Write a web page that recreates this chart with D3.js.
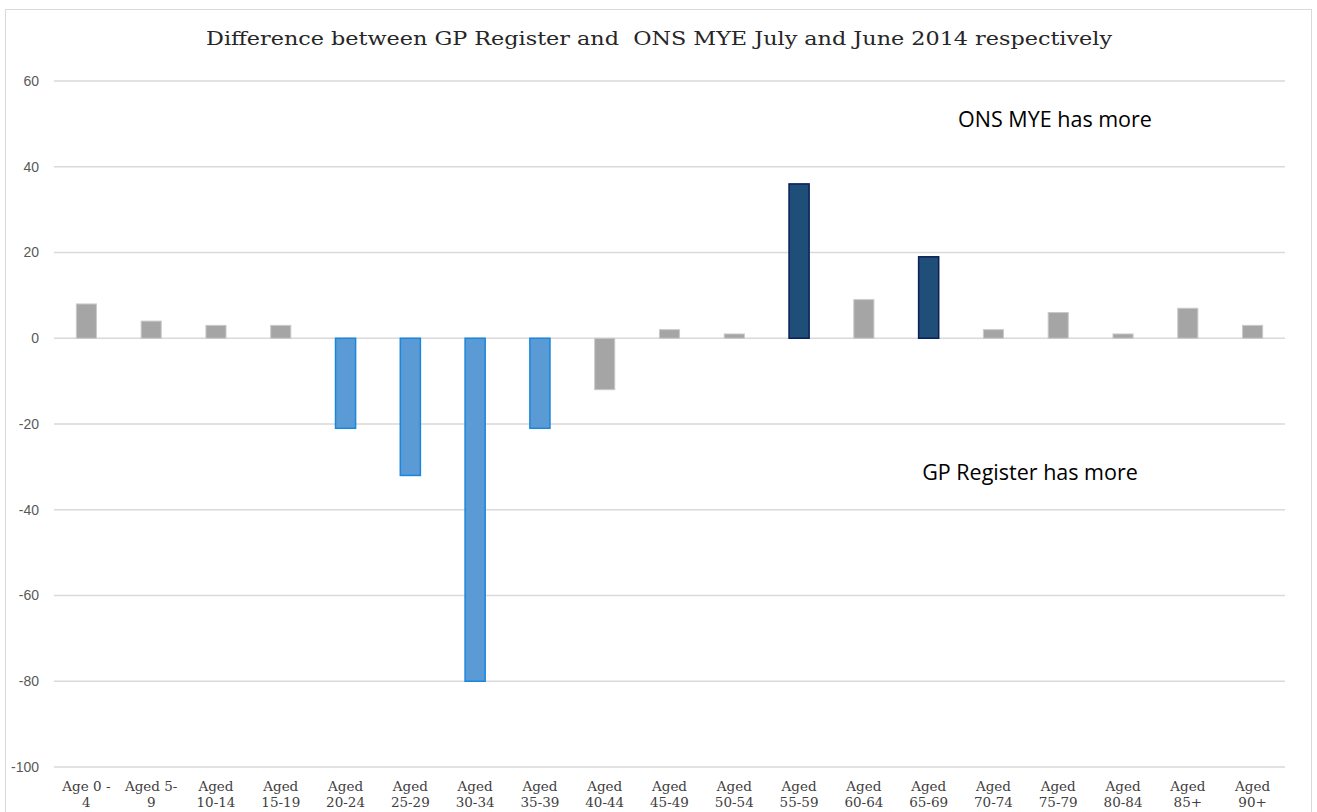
<!DOCTYPE html>
<html>
<head>
<meta charset="utf-8">
<script src="https://cdn.jsdelivr.net/npm/d3@7"></script>
<style>
  body { margin: 0; background: #fff; }
</style>
</head>
<body>
<div id="chart"></div>
<script>
// chart data
const ageGroups = ["Age 0 - 4", "Aged 5- 9", "Aged 10-14", "Aged 15-19", "Aged 20-24", "Aged 25-29",
  "Aged 30-34", "Aged 35-39", "Aged 40-44", "Aged 45-49", "Aged 50-54", "Aged 55-59", "Aged 60-64",
  "Aged 65-69", "Aged 70-74", "Aged 75-79", "Aged 80-84", "Aged 85+", "Aged 90+"];
const tickLines = [["Age 0 -", "4"], ["Aged 5-", "9"], ["Aged", "10-14"], ["Aged", "15-19"], ["Aged", "20-24"],
  ["Aged", "25-29"], ["Aged", "30-34"], ["Aged", "35-39"], ["Aged", "40-44"], ["Aged", "45-49"],
  ["Aged", "50-54"], ["Aged", "55-59"], ["Aged", "60-64"], ["Aged", "65-69"], ["Aged", "70-74"],
  ["Aged", "75-79"], ["Aged", "80-84"], ["Aged", "85+"], ["Aged", "90+"]];
const differences = [8, 4, 3, 3, -21, -32, -80, -21, -12, 2, 1, 36, 9, 19, 2, 6, 1, 7, 3];
// which group each bar is highlighted as
const highlight = ["grey", "grey", "grey", "grey", "gp", "gp", "gp", "gp", "grey", "grey", "grey", "ons",
  "grey", "ons", "grey", "grey", "grey", "grey", "grey"];
const yTicks = [-100, -80, -60, -40, -20, 0, 20, 40, 60];

const W = 1317, H = 812;
const margin = { top: 81, right: 32, bottom: 45, left: 54 };
const width = W - margin.left - margin.right,
  height = 767 - margin.top;
const slab = "'DejaVu Serif', serif";

const svg = d3.select("#chart").append("svg")
  .attr("width", W).attr("height", H);

// chart frame
svg.append("rect")
  .attr("x", 5.5).attr("y", 9.5)
  .attr("width", 1306).attr("height", 820)
  .attr("fill", "#fff").attr("stroke", "#d9d9d9");

const g = svg.append("g")
  .attr("transform", `translate(${margin.left},${margin.top})`);

const x = d3.scaleBand()
  .domain(ageGroups)
  .range([0, width])
  .paddingInner(0.69)
  .paddingOuter(0.345);

const y = d3.scaleLinear()
  .domain([-100, 60])
  .range([height, 0]);

// gridlines
g.append("g")
  .selectAll("line")
  .data(yTicks)
  .join("line")
  .attr("x1", 0).attr("x2", width)
  .attr("y1", d => y(d)).attr("y2", d => y(d))
  .attr("stroke", "#d9d9d9").attr("stroke-width", 1.3);

// y tick labels
g.append("g")
  .selectAll("text")
  .data(yTicks)
  .join("text")
  .attr("x", -15)
  .attr("y", d => y(d))
  .attr("dy", "0.35em")
  .attr("text-anchor", "end")
  .style("font-family", "'Liberation Sans', Arial, sans-serif")
  .style("font-size", "14px")
  .attr("fill", "#595959")
  .text(d => d);

// bar colours
const fill = { grey: "#a5a5a5", gp: "#5b9bd5", ons: "#1f4e79" };
const stroke = { grey: "#c9c9c9", gp: "#1a86dc", ons: "#0b1e5a" };

g.append("g")
  .selectAll("rect")
  .data(differences)
  .join("rect")
  .attr("x", (d, i) => x(ageGroups[i]))
  .attr("width", x.bandwidth())
  .attr("y", d => y(Math.max(0, d)))
  .attr("height", d => Math.abs(y(d) - y(0)))
  .attr("fill", (d, i) => fill[highlight[i]])
  .attr("stroke", (d, i) => stroke[highlight[i]])
  .attr("stroke-width", (d, i) => highlight[i] == "grey" ? 1 : 1.5);

// x labels (two lines each)
const xl = g.append("g")
  .selectAll("text")
  .data(tickLines)
  .join("text")
  .attr("text-anchor", "middle")
  .attr("x", (d, i) => x(ageGroups[i]) + x.bandwidth() / 2)
  .attr("y", height + 24)
  .style("font-family", slab)
  .style("font-size", "13.5px")
  .attr("fill", "#404040");
xl.append("tspan")
  .attr("x", (d, i) => x(ageGroups[i]) + x.bandwidth() / 2)
  .text(d => d[0]);
xl.append("tspan")
  .attr("x", (d, i) => x(ageGroups[i]) + x.bandwidth() / 2)
  .attr("dy", 16)
  .text(d => d[1]);

// title
svg.append("text")
  .attr("x", 659).attr("y", 45)
  .attr("text-anchor", "middle")
  .style("font-family", slab)
  .style("font-size", "18px")
  .attr("textLength", 906)
  .attr("lengthAdjust", "spacingAndGlyphs")
  .attr("fill", "#262626")
  .style("white-space", "pre")
  .text("Difference between GP Register and  ONS MYE July and June 2014 respectively");

// annotations
svg.append("text")
  .attr("x", 1055).attr("y", 127)
  .attr("text-anchor", "middle")
  .style("font-family", "'Open Sans', sans-serif")
  .style("font-size", "21.5px")
  .attr("fill", "#000")
  .text("ONS MYE has more");

svg.append("text")
  .attr("x", 1030).attr("y", 480)
  .attr("text-anchor", "middle")
  .style("font-family", "'Open Sans', sans-serif")
  .style("font-size", "21.5px")
  .attr("fill", "#000")
  .text("GP Register has more");
</script>
</body>
</html>
